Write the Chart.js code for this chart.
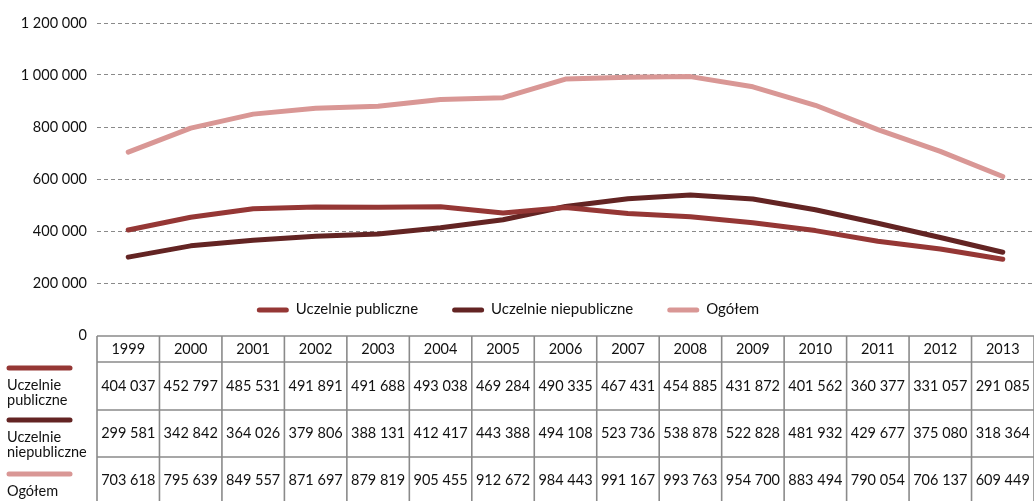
<!DOCTYPE html>
<html lang="pl">
<head>
<meta charset="utf-8">
<title>Studenci uczelni publicznych i niepublicznych 1999–2013</title>
<script src="https://cdn.jsdelivr.net/npm/chart.js@4.4.1/dist/chart.umd.min.js"></script>
<style>
  html, body { margin: 0; padding: 0; background: #fff; }
  #wrap { width: 1034px; height: 501px; position: relative; }
</style>
</head>
<body>
<div id="wrap"><canvas id="c" width="1034" height="501"></canvas></div>
<script>
// Lata akademickie (kolumny tabeli)
const years = ['1999', '2000', '2001', '2002', '2003', '2004', '2005', '2006',
               '2007', '2008', '2009', '2010', '2011', '2012', '2013'];

// Liczba studentów
const publiczne = [404037, 452797, 485531, 491891, 491688, 493038, 469284, 490335,
                   467431, 454885, 431872, 401562, 360377, 331057, 291085];
const niepubliczne = [299581, 342842, 364026, 379806, 388131, 412417, 443388, 494108,
                      523736, 538878, 522828, 481932, 429677, 375080, 318364];
const ogolem = [703618, 795639, 849557, 871697, 879819, 905455, 912672, 984443,
                991167, 993763, 954700, 883494, 790054, 706137, 609449];

// Oś wartości
const yMin = 0;
const yMax = 1200000;
const yStep = 200000;

const seriesNames = ['Uczelnie publiczne', 'Uczelnie niepubliczne', 'Ogółem'];
const rowLabels = [['Uczelnie', 'publiczne'], ['Uczelnie', 'niepubliczne'], ['Ogółem']];
const seriesColors = ['#953735', '#632423', '#d99795'];

const FONT = 'Lato, "Open Sans", sans-serif';

// 1234567 -> "1 234 567"
function fmt(n) {
  return String(n).replace(/\B(?=(\d{3})+(?!\d))/g, ' ');
}

// Legenda wewnątrz obszaru wykresu, nad osią zera
const innerLegend = {
  id: 'innerLegend',
  afterDraw(chart) {
    const ctx = chart.ctx;
    ctx.save();
    ctx.font = '15px ' + FONT;
    ctx.textBaseline = 'middle';
    const sample = 32, gapText = 7, gapItem = 34;
    const widths = seriesNames.map(s => ctx.measureText(s).width);
    let total = 0;
    widths.forEach((w, i) => { total += sample + gapText + w + (i < widths.length - 1 ? gapItem : 0); });
    let x = 508 - total / 2;
    const yy = 309;
    seriesNames.forEach((name, i) => {
      ctx.strokeStyle = seriesColors[i];
      ctx.lineWidth = 5;
      ctx.lineCap = 'round';
      ctx.beginPath();
      ctx.moveTo(x + 2.5, yy + 1);
      ctx.lineTo(x + sample - 2.5, yy + 1);
      ctx.stroke();
      ctx.fillStyle = '#111';
      ctx.fillText(name, x + sample + gapText, yy);
      x += sample + gapText + widths[i] + gapItem;
    });
    ctx.restore();
  }
};

// Tabela danych pod wykresem, kolumny wyrównane do kategorii osi X
const dataTable = {
  id: 'dataTable',
  afterDraw(chart) {
    const ctx = chart.ctx;
    const xs = chart.scales.x;
    const ys = chart.scales.y;
    const area = chart.chartArea;
    const colW = (area.right - area.left) / years.length;
    const top = Math.round(ys.getPixelForValue(0)) + 1;
    const rowH = [26, 48, 47, 47];
    const rowTop = [top];
    for (let i = 0; i < rowH.length; i++) rowTop.push(rowTop[i] + rowH[i]);
    const bottom = rowTop[rowTop.length - 1];

    ctx.save();
    ctx.strokeStyle = '#8a8a8a';
    ctx.lineWidth = 1.6;
    // linie poziome
    rowTop.forEach(yv => {
      ctx.beginPath();
      ctx.moveTo(area.left, yv);
      ctx.lineTo(chart.width, yv);
      ctx.stroke();
    });
    // linie pionowe
    for (let i = 0; i <= years.length; i++) {
      const xv = xs.getPixelForValue(i) - colW / 2;
      ctx.beginPath();
      ctx.moveTo(xv, top);
      ctx.lineTo(xv, bottom);
      ctx.stroke();
    }

    // zawartość komórek
    ctx.fillStyle = '#111';
    ctx.font = '14.5px ' + FONT;
    ctx.textAlign = 'center';
    ctx.textBaseline = 'middle';
    const rows = [publiczne, niepubliczne, ogolem];
    years.forEach((yr, i) => {
      const cx = xs.getPixelForValue(i);
      ctx.fillText(yr, cx, rowTop[0] + rowH[0] / 2);
      rows.forEach((vals, r) => {
        ctx.fillText(fmt(vals[i]), cx, rowTop[r + 1] + rowH[r + 1] / 2);
      });
    });

    // opisy wierszy z próbkami linii
    ctx.textAlign = 'left';
    const sampleOff = [6, 10, 17];
    const textOff = [23, 27, 34];
    rowLabels.forEach((lines, r) => {
      const t = rowTop[r + 1];
      ctx.strokeStyle = seriesColors[r];
      ctx.lineWidth = 5;
      ctx.lineCap = 'round';
      ctx.beginPath();
      ctx.moveTo(9, t + sampleOff[r]);
      ctx.lineTo(70, t + sampleOff[r]);
      ctx.stroke();
      lines.forEach((ln, k) => {
        ctx.fillText(ln, 7, t + textOff[r] + k * 15);
      });
    });
    ctx.restore();
  }
};

function build() {
  const mkSet = (label, data, color) => ({
    label, data,
    borderColor: color,
    backgroundColor: color,
    borderWidth: 5,
    pointRadius: 0,
    pointHoverRadius: 0,
    tension: 0,
    borderCapStyle: 'round',
    borderJoinStyle: 'round',
    fill: false
  });

  new Chart(document.getElementById('c'), {
    type: 'line',
    data: {
      labels: years,
      datasets: [
        mkSet(seriesNames[0], publiczne, seriesColors[0]),
        mkSet(seriesNames[1], niepubliczne, seriesColors[1]),
        mkSet(seriesNames[2], ogolem, seriesColors[2])
      ]
    },
    options: {
      responsive: false,
      animation: false,
      devicePixelRatio: 1,
      layout: { padding: { top: 23, bottom: 166, left: 0, right: 0 } },
      plugins: {
        legend: { display: false },
        tooltip: { enabled: false }
      },
      scales: {
        x: {
          type: 'category',
          display: false,
          offset: true
        },
        y: {
          min: yMin,
          max: yMax,
          ticks: {
            stepSize: yStep,
            padding: 10,
            color: '#111',
            font: { family: FONT, size: 14.5 },
            callback: v => fmt(v)
          },
          grid: {
            color: c => c.tick && c.tick.value === 0 ? 'rgba(0,0,0,0)' : '#8a8a8a',
            lineWidth: 1,
            drawTicks: false
          },
          border: { display: false, dash: [4, 3] },
          afterFit: s => { s.width = 97; }
        }
      }
    },
    plugins: [innerLegend, dataTable]
  });
}

if (document.fonts && document.fonts.load) {
  Promise.all([
    document.fonts.load('14.5px Lato'),
    document.fonts.load('15px Lato')
  ]).then(build, build);
} else {
  build();
}
</script>
</body>
</html>
